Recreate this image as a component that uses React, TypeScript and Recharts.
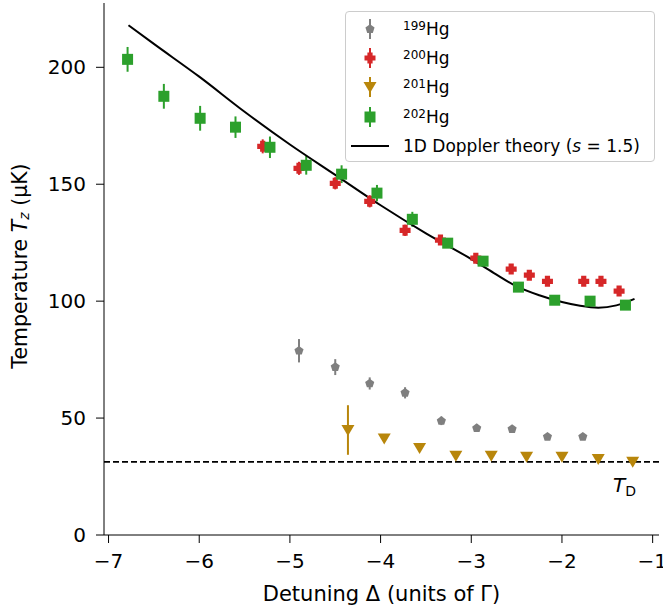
import {
  ComposedChart,
  Scatter,
  Line,
  XAxis,
  YAxis,
  ErrorBar,
  ReferenceLine,
  Legend,
} from 'recharts';

const FONT = '"DejaVu Sans", sans-serif';

// 199Hg
const hg199X = [-4.9, -4.5, -4.12, -3.73, -3.33, -2.94, -2.55, -2.16, -1.77];
const hg199Y = [78.8, 71.8, 64.8, 60.8, 48.8, 45.7, 45.3, 42.0, 42.0];
const hg199E = [5.0, 3.4, 2.6, 2.4, 1.8, 1.6, 1.4, 1.2, 1.2];

// 200Hg
const hg200X = [-5.3, -4.9, -4.5, -4.12, -3.73, -3.34, -2.95, -2.56, -2.36, -2.16, -1.76, -1.57, -1.37];
const hg200Y = [166.2, 156.8, 150.4, 142.7, 130.3, 126.1, 118.4, 113.7, 111.1, 108.5, 108.5, 108.5, 104.3];
const hg200E = [3.0, 2.8, 2.6, 2.6, 2.4, 2.0, 2.0, 2.0, 2.0, 1.8, 1.8, 1.8, 1.8];

// 201Hg
const hg201X = [-4.36, -3.96, -3.57, -3.17, -2.78, -2.39, -2.0, -1.6, -1.22];
const hg201Y = [44.9, 41.3, 37.2, 33.9, 33.9, 33.5, 33.5, 32.5, 31.3];
const hg201E = [10.6, 1.0, 1.0, 1.0, 1.0, 1.0, 1.0, 1.0, 1.0];

// 202Hg
const hg202X = [-6.79, -6.39, -5.99, -5.6, -5.22, -4.82, -4.43, -4.04, -3.65, -3.26, -2.87, -2.48, -2.08, -1.69, -1.3];
const hg202Y = [203.4, 187.6, 178.2, 174.4, 165.8, 158.1, 154.3, 146.2, 135.0, 124.8, 117.1, 106.0, 100.4, 100.0, 98.3];
const hg202E = [5.3, 5.3, 5.3, 4.6, 4.6, 4.0, 3.8, 3.5, 3.2, 2.0, 1.5, 1.2, 1.0, 1.0, 1.0];

// theory curve
const theoryX = [-6.78, -6.5, -6.0, -5.5, -5.0, -4.5, -4.0, -3.5, -3.0, -2.75, -2.5, -2.25, -2.0, -1.8, -1.6, -1.4, -1.2];
const theoryY = [218, 210, 196, 181, 167, 154, 141, 129, 118, 112, 106.3, 102.5, 99.6, 98, 97.2, 98.2, 101];

const T_DOPPLER = 31.3;

const xTicks = [-7, -6, -5, -4, -3, -2, -1];
const yTicks = [0, 50, 100, 150, 200];

const GRAY = '#7f7f7f';
const RED = '#d62728';
const GOLD = '#b8860b';
const GREEN = '#2ca02c';

const zip = (xs: number[], ys: number[], es?: number[]) =>
  xs.map((x, i) => ({ x, y: ys[i], e: es ? es[i] : 0 }));

const d199 = zip(hg199X, hg199Y, hg199E);
const d200 = zip(hg200X, hg200Y, hg200E);
const d201 = zip(hg201X, hg201Y, hg201E);
const d202 = zip(hg202X, hg202Y, hg202E);
const theory = zip(theoryX, theoryY);

function pentagon(cx: number, cy: number, r: number) {
  const pts = [];
  for (let i = 0; i < 5; i++) {
    const a = -Math.PI / 2 + (i * 2 * Math.PI) / 5;
    pts.push(`${cx + r * Math.cos(a)},${cy + r * Math.sin(a)}`);
  }
  return pts.join(' ');
}

const Pent = ({ cx, cy }: any) => <polygon points={pentagon(cx, cy, 4.8)} fill={GRAY} />;

const Plus = ({ cx, cy }: any) => {
  const a = 5.5;
  const t = 2.6;
  const pts = [
    [-t, -a], [t, -a], [t, -t], [a, -t], [a, t], [t, t], [t, a], [-t, a], [-t, t], [-a, t], [-a, -t], [-t, -t],
  ]
    .map(([dx, dy]) => `${cx + dx},${cy + dy}`)
    .join(' ');
  return <polygon points={pts} fill={RED} />;
};

const TriDown = ({ cx, cy }: any) => (
  <polygon points={`${cx - 6.5},${cy - 5} ${cx + 6.5},${cy - 5} ${cx},${cy + 6}`} fill={GOLD} />
);

const Square = ({ cx, cy }: any) => <rect x={cx - 5.5} y={cy - 5.5} width={11} height={11} fill={GREEN} />;

const fmt = (v: number) => String(v).replace('-', '\u2212');

function LegendMarker({ kind }: { kind: string }) {
  if (kind === 'line') {
    return (
      <svg width={48} height={24} style={{ display: 'block' }}>
        <line x1={5} x2={43} y1={12} y2={12} stroke="#000" strokeWidth={2} />
      </svg>
    );
  }
  const c = kind === 'g' ? GRAY : kind === 'r' ? RED : kind === 'o' ? GOLD : GREEN;
  return (
    <svg width={48} height={24} style={{ display: 'block' }}>
      <line x1={24} x2={24} y1={2} y2={22} stroke={c} strokeWidth={2} />
      {kind === 'g' && <Pent cx={24} cy={12} />}
      {kind === 'r' && <Plus cx={24} cy={12} />}
      {kind === 'o' && <TriDown cx={24} cy={12} />}
      {kind === 's' && <Square cx={24} cy={12} />}
    </svg>
  );
}

function renderLegend() {
  const sup = (s: string) => <sup style={{ fontSize: 12, verticalAlign: 'top', position: 'relative', top: -3 }}>{s}</sup>;
  const rows: [string, any][] = [
    ['g', <>{sup('199')}Hg</>],
    ['r', <>{sup('200')}Hg</>],
    ['o', <>{sup('201')}Hg</>],
    ['s', <>{sup('202')}Hg</>],
    ['line', <>1D Doppler theory (<i>s</i> = 1.5)</>],
  ];
  return (
    <div
      style={{
        width: 310,
        height: 151,
        border: '1px solid #cccccc',
        borderRadius: 4,
        background: 'rgba(255,255,255,0.85)',
        fontFamily: FONT,
        fontSize: 17,
        color: '#000',
        boxSizing: 'border-box',
        paddingTop: 2,
        textAlign: 'left',
      }}
    >
      {rows.map(([k, label], i) => (
        <div key={i} style={{ display: 'flex', alignItems: 'center', height: 29.3 }}>
          <div style={{ width: 57 }}>
            <LegendMarker kind={k} />
          </div>
          <span style={{ whiteSpace: 'nowrap', lineHeight: '20px' }}>{label}</span>
        </div>
      ))}
    </div>
  );
}

const YLabel = ({ viewBox }: any) => {
  const cx = 20;
  const cy = viewBox.y + viewBox.height / 2 - 3;
  return (
    <text
      x={cx}
      y={cy}
      transform={`rotate(-90 ${cx} ${cy})`}
      textAnchor="middle"
      dominantBaseline="central"
      fontFamily={FONT}
      fontSize={20.5}
      fill="#000"
    >
      Temperature <tspan fontStyle="italic">T</tspan>
      <tspan fontStyle="italic" fontSize={14} dy={4}>z</tspan>
      <tspan dy={-4}> (μK)</tspan>
    </text>
  );
};

const XLabel = ({ viewBox }: any) => (
  <text
    x={viewBox.x + viewBox.width / 2}
    y={601}
    textAnchor="middle"
    fontFamily={FONT}
    fontSize={21}
    fill="#000"
  >
    Detuning Δ (units of Γ)
  </text>
);

const TDLabel = ({ viewBox }: any) => {
  const x = viewBox.x + viewBox.width - 46;
  const y = viewBox.y + 30;
  return (
    <text x={x} y={y} fontFamily={FONT} fontSize={20} fill="#000">
      <tspan fontStyle="italic">T</tspan>
      <tspan fontSize={14} dy={4}>D</tspan>
    </text>
  );
};

export default function App() {
  return (
    <div style={{ position: 'absolute', left: 0, top: 0, background: '#fff' }}>
      <ComposedChart width={663} height={614} margin={{ top: 3, right: 4, left: 0, bottom: 0 }}>
        <XAxis
          dataKey="x"
          type="number"
          domain={[-7.05, -0.93]}
          ticks={xTicks}
          tickFormatter={fmt}
          allowDataOverflow
          height={79}
          stroke="#000"
          tickSize={8}
          tickMargin={11}
          tick={{ fill: '#000', fontSize: 20, fontFamily: FONT }}
          label={<XLabel />}
        />
        <XAxis xAxisId="top" orientation="top" type="number" domain={[-7.05, -0.93]} height={0} tick={false} tickLine={false} stroke="#000" />
        <YAxis
          dataKey="y"
          type="number"
          domain={[0, 227.5]}
          ticks={yTicks}
          allowDataOverflow
          width={104}
          stroke="#000"
          tickSize={8}
          tickMargin={10}
          tick={{ fill: '#000', fontSize: 20, fontFamily: FONT }}
          label={<YLabel />}
        />
        <YAxis yAxisId="right" orientation="right" type="number" domain={[0, 227.5]} width={0} tick={false} tickLine={false} stroke="#000" />
        <ReferenceLine y={T_DOPPLER} stroke="#000" strokeWidth={1.8} strokeDasharray="6 3" label={<TDLabel />} />
        <Scatter name="199Hg" data={d199} shape={<Pent />} isAnimationActive={false}>
          <ErrorBar dataKey="e" direction="y" width={0} stroke={GRAY} strokeWidth={2} />
        </Scatter>
        <Scatter name="200Hg" data={d200} shape={<Plus />} isAnimationActive={false}>
          <ErrorBar dataKey="e" direction="y" width={0} stroke={RED} strokeWidth={2} />
        </Scatter>
        <Scatter name="201Hg" data={d201} shape={<TriDown />} isAnimationActive={false}>
          <ErrorBar dataKey="e" direction="y" width={0} stroke={GOLD} strokeWidth={2} />
        </Scatter>
        <Scatter name="202Hg" data={d202} shape={<Square />} isAnimationActive={false}>
          <ErrorBar dataKey="e" direction="y" width={0} stroke={GREEN} strokeWidth={2} />
        </Scatter>
        <Line
          data={theory}
          dataKey="y"
          type="monotone"
          stroke="#000"
          strokeWidth={2}
          dot={false}
          activeDot={false}
          isAnimationActive={false}
        />
        <Legend
          content={renderLegend}
          layout="vertical"
          align="center"
          verticalAlign="middle"
          wrapperStyle={{ position: 'absolute', left: 345, top: 11, width: 'auto', height: 'auto' }}
        />
      </ComposedChart>
    </div>
  );
}
